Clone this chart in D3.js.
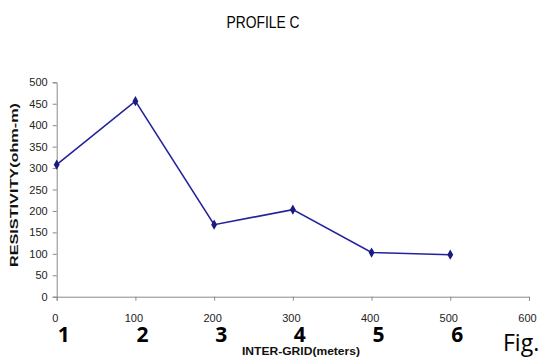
<!DOCTYPE html>
<html><head><meta charset="utf-8">
<script src="https://cdn.jsdelivr.net/npm/d3@7"></script>
<style>body{margin:0;background:#fff}svg{display:block}</style>
</head><body>
<script>
const distances = [0, 100, 200, 300, 400, 500];
const resistivity = [308, 456, 168, 203, 103, 98];
const stationLabels = ["1", "2", "3", "4", "5", "6"];
const xTicks = [0, 100, 200, 300, 400, 500, 600];
const yTicks = [0, 50, 100, 150, 200, 250, 300, 350, 400, 450, 500];
const title = "PROFILE C";
const xTitle = "INTER-GRID(meters)";
const yTitle = "RESISTIVITY(ohm-m)";

const W = 543, H = 361;
const svg = d3.select("body").append("svg").attr("width", W).attr("height", H);
const x = d3.scaleLinear().domain([0, 600]).range([56.7, 529]);
const y = d3.scaleLinear().domain([0, 500]).range([296.7, 82.3]);
const axisColor = "#8a8a8a", textColor = "#222";

// y axis
const gy = svg.append("g").attr("transform", `translate(${x(0)},0)`)
  .call(d3.axisLeft(y).tickValues(yTicks).tickSize(4).tickPadding(5));
gy.select(".domain").attr("stroke", axisColor);
gy.selectAll(".tick line").attr("stroke", axisColor);
gy.selectAll(".tick text").attr("font-family", "Liberation Sans, Arial, sans-serif")
  .attr("font-size", 11).attr("fill", textColor);

// x axis
const gx = svg.append("g").attr("transform", `translate(0,${y(0)})`)
  .call(d3.axisBottom(x).tickValues(xTicks).tickSize(4).tickPadding(14));
gx.select(".domain").attr("stroke", axisColor);
gx.selectAll(".tick line").attr("stroke", axisColor);
gx.selectAll(".tick text").attr("font-family", "Liberation Sans, Arial, sans-serif")
  .attr("font-size", 11).attr("fill", textColor).attr("dx", -2);

// line
const line = d3.line().x((d, i) => x(distances[i])).y(d => y(d));
svg.append("path").datum(resistivity).attr("d", line)
  .attr("fill", "none").attr("stroke", "#24249a").attr("stroke-width", 1.6);
svg.selectAll("path.mk").data(resistivity).enter().append("path").attr("class", "mk")
  .attr("d", d3.symbol(d3.symbolDiamond, 30))
  .attr("transform", (d, i) => `translate(${x(distances[i])},${y(d)})`)
  .attr("fill", "#1a1a80");

// station labels
svg.selectAll("text.st").data(stationLabels).enter().append("text").attr("class", "st")
  .attr("x", (d, i) => x(distances[i]) + 7).attr("y", 342)
  .attr("text-anchor", "middle").attr("font-family", "Open Sans, sans-serif")
  .attr("font-weight", "bold").attr("font-size", 21).attr("fill", "#000").text(d => d);

// titles
svg.append("text").attr("x", 263).attr("y", 28).attr("text-anchor", "middle")
  .attr("font-family", "Liberation Sans, Arial, sans-serif").attr("font-size", 17)
  .attr("textLength", 73).attr("lengthAdjust", "spacingAndGlyphs").attr("fill", "#000").text(title);
svg.append("text").attr("x", 301).attr("y", 355).attr("text-anchor", "middle")
  .attr("font-family", "Liberation Sans, Arial, sans-serif").attr("font-size", 11).attr("font-weight", "bold")
  .attr("textLength", 118).attr("lengthAdjust", "spacingAndGlyphs").attr("fill", "#111").text(xTitle);
svg.append("text").attr("transform", "translate(18,185) rotate(-90)").attr("text-anchor", "middle")
  .attr("font-family", "Liberation Sans, Arial, sans-serif").attr("font-size", 11.5).attr("font-weight", "bold")
  .attr("textLength", 164).attr("lengthAdjust", "spacingAndGlyphs").attr("fill", "#111").text(yTitle);
svg.append("text").attr("x", 503).attr("y", 351)
  .attr("font-family", "Open Sans, sans-serif").attr("font-size", 23).attr("fill", "#000").text("Fig.");
</script>
</body></html>
